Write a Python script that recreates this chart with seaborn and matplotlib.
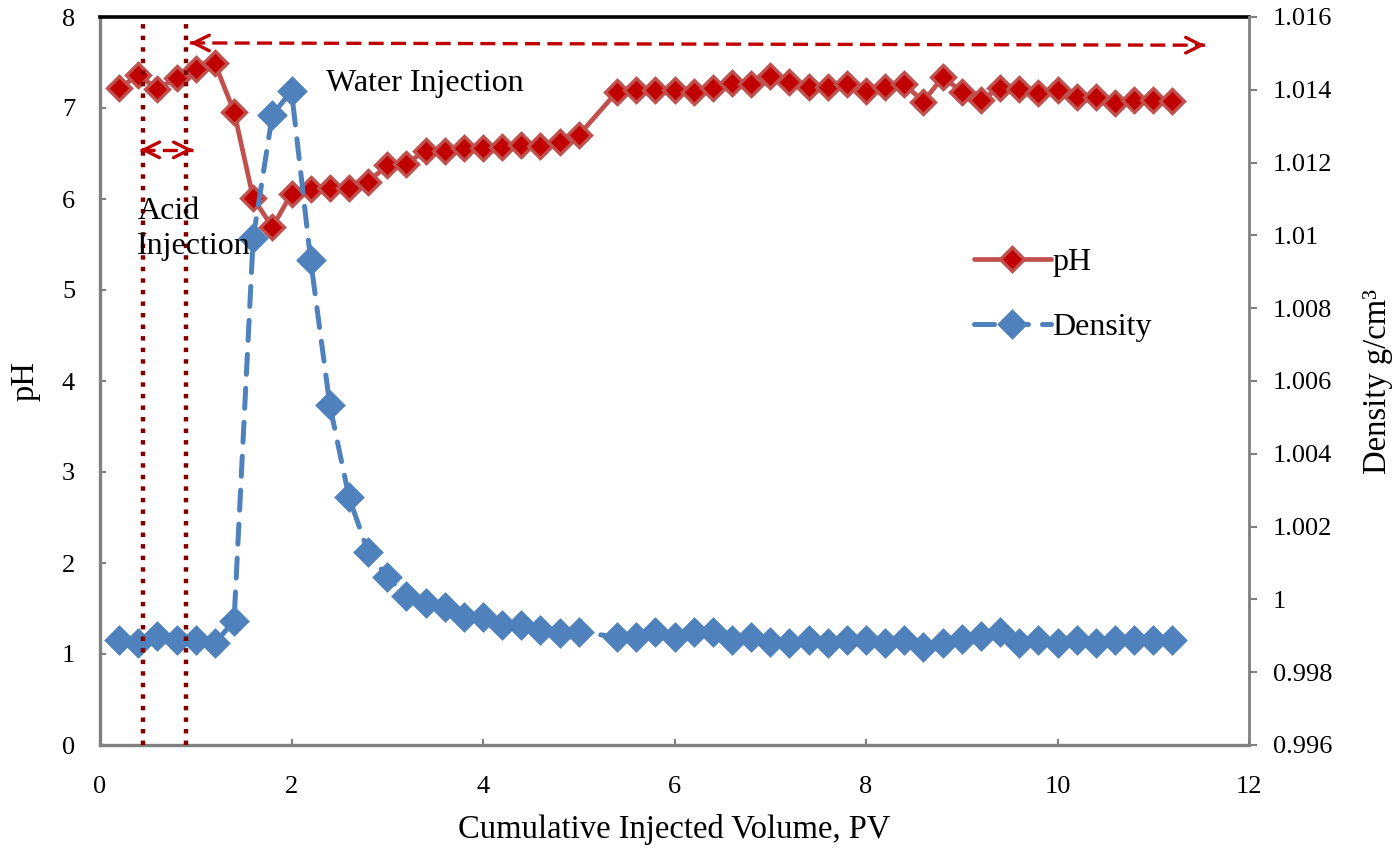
import numpy as np
import pandas as pd
import matplotlib
matplotlib.use("Agg")
import matplotlib.pyplot as plt
import seaborn as sns

# ---------------- data ----------------
pv = [0.2, 0.4, 0.6, 0.8, 1.0, 1.2, 1.4, 1.6, 1.8, 2.0, 2.2, 2.4, 2.6, 2.8, 3.0,
      3.2, 3.4, 3.6, 3.8, 4.0, 4.2, 4.4, 4.6, 4.8, 5.0,
      5.4, 5.6, 5.8, 6.0, 6.2, 6.4, 6.6, 6.8, 7.0, 7.2, 7.4, 7.6, 7.8, 8.0,
      8.2, 8.4, 8.6, 8.8, 9.0, 9.2, 9.4, 9.6, 9.8, 10.0, 10.2, 10.4, 10.6,
      10.8, 11.0, 11.2]

ph = [7.22, 7.36, 7.21, 7.33, 7.43, 7.49, 6.96, 6.01, 5.69, 6.06, 6.11, 6.12,
      6.12, 6.19, 6.37, 6.39, 6.53, 6.53, 6.56, 6.56, 6.57, 6.59, 6.58, 6.63, 6.70,
      7.18, 7.20, 7.20, 7.20, 7.18, 7.22, 7.27, 7.26, 7.35, 7.29, 7.23, 7.23,
      7.26, 7.19, 7.23, 7.26, 7.07, 7.34, 7.18, 7.09, 7.22, 7.21, 7.16, 7.20,
      7.12, 7.12, 7.05, 7.09, 7.09, 7.08]

density = [0.99888, 0.99880, 0.99899, 0.99888, 0.99888, 0.99880, 0.99941,
           1.00993, 1.01331, 1.01397, 1.00932, 1.00534, 1.00281, 1.00130,
           1.00062, 1.00009, 0.99990, 0.99979, 0.99952, 0.99952, 0.99930,
           0.99930, 0.99916, 0.99908, 0.99910,
           0.99897, 0.99897, 0.99910, 0.99897, 0.99910, 0.99910, 0.99888,
           0.99897, 0.99883, 0.99880, 0.99888, 0.99880, 0.99888, 0.99888,
           0.99880, 0.99888, 0.99869, 0.99880, 0.99891, 0.99899, 0.99910,
           0.99880, 0.99888, 0.99880, 0.99888, 0.99880, 0.99888, 0.99888,
           0.99888, 0.99888]

x_ticks = [0, 2, 4, 6, 8, 10, 12]
ph_ticks = [0, 1, 2, 3, 4, 5, 6, 7, 8]
dens_ticks = [0.996, 0.998, 1.000, 1.002, 1.004, 1.006, 1.008, 1.010, 1.012, 1.014, 1.016]
dens_tick_labels = ["0.996", "0.998", "1", "1.002", "1.004", "1.006", "1.008",
                    "1.01", "1.012", "1.014", "1.016"]

acid_lines = [0.45, 0.90]

df = pd.DataFrame({"PV": pv, "pH": ph, "Density": density})

# ---------------- style ----------------
sns.set_style("white")
plt.rcParams["font.family"] = ["Liberation Serif", "DejaVu Serif"]
plt.rcParams["text.color"] = "black"
plt.rcParams["axes.labelcolor"] = "black"
plt.rcParams["xtick.labelcolor"] = "black"
plt.rcParams["ytick.labelcolor"] = "black"

RED_LINE = "#C0504D"
RED_FILL = "#C00000"
BLUE = "#4F81BD"
GRAY = "#808080"

fig = plt.figure(figsize=(13.97, 8.52), dpi=100)
ax = fig.add_axes([100 / 1397, 1 - 745 / 852, 1149 / 1397, 728 / 852])
ax2 = ax.twinx()

sns.lineplot(data=df, x="PV", y="pH", ax=ax, sort=False, estimator=None,
             color=RED_LINE, lw=3.4, marker="D", markersize=12.5,
             markerfacecolor=RED_FILL, markeredgecolor=RED_LINE,
             markeredgewidth=2.4, label="pH", legend=False)
sns.lineplot(data=df, x="PV", y="Density", ax=ax2, sort=False, estimator=None,
             color=BLUE, lw=3.6, marker="D", markersize=13,
             markerfacecolor=BLUE, markeredgecolor=BLUE, markeredgewidth=2.4,
             linestyle=(0, (4, 2.8)), dash_capstyle="round",
             label="Density", legend=False)

ax.set_xlim(0, 12)
ax.set_ylim(0, 8)
ax2.set_ylim(0.996, 1.016)
ax.set_xticks(x_ticks)
ax.set_xticklabels([str(v) for v in x_ticks])
ax.set_yticks(ph_ticks)
ax.set_yticklabels([str(v) for v in ph_ticks])
ax2.set_yticks(dens_ticks)
ax2.set_yticklabels(dens_tick_labels)

for a in (ax, ax2):
    for s in a.spines.values():
        s.set_visible(False)
ax.spines["left"].set_visible(True)
ax.spines["bottom"].set_visible(True)
ax.spines["top"].set_visible(True)
ax2.spines["right"].set_visible(True)
ax.spines["left"].set_color(GRAY)
ax.spines["left"].set_linewidth(2.4)
ax.spines["bottom"].set_color(GRAY)
ax.spines["bottom"].set_linewidth(2.4)
ax.spines["top"].set_color("black")
ax.spines["top"].set_linewidth(2.6)
ax2.spines["right"].set_color(GRAY)
ax2.spines["right"].set_linewidth(2.0)

ax.tick_params(axis="x", direction="in", length=4, width=1.5, color=GRAY,
               labelsize=19, pad=22, bottom=True, labelcolor="black")
ax.tick_params(axis="y", direction="in", length=4, width=1.5, color=GRAY,
               labelsize=19, pad=18, left=True, labelcolor="black")
ax2.tick_params(axis="y", direction="out", length=6, width=1.5, color=GRAY,
                labelsize=19, pad=11, right=True, labelcolor="black")

ax.set_xlabel("Cumulative Injected Volume, PV", fontsize=23.5, labelpad=12)
ax.set_ylabel("pH", fontsize=23.5, labelpad=15)
ax2.set_ylabel("Density g/cm³", fontsize=23.5, labelpad=22)

# vertical dotted lines (acid injection window)
for xv in acid_lines:
    ax2.axvline(xv, color="#800000", lw=3.2, linestyle=(0, (1, 1.6)), zorder=5)

ph_to_d = lambda p: 0.996 + p * 0.0025

def dashed_arrow(x0, y0, x1, y1, lw, dash):
    ax2.plot([x0, x1], [ph_to_d(y0), ph_to_d(y1)], color=RED_FILL, lw=lw,
             linestyle=dash, zorder=6)
    for (xa, ya, xb, yb) in ((x0, y0, x1, y1), (x1, y1, x0, y0)):
        dx, dy = (xb - xa), (yb - ya)
        n = np.hypot(dx, dy)
        ax2.annotate("", xy=(xa, ph_to_d(ya)),
                     xytext=(xa + 0.05 * dx / n, ph_to_d(ya + 0.05 * dy / n)),
                     arrowprops=dict(arrowstyle="->", color=RED_FILL, lw=lw,
                                     mutation_scale=28, shrinkA=0, shrinkB=0),
                     zorder=6)

dashed_arrow(0.94, 7.715, 11.54, 7.69, 2.4, (0, (4.5, 2.2)))
dashed_arrow(0.42, 6.54, 0.97, 6.54, 2.4, (0, (4.5, 2.2)))

ax2.text(3.39, ph_to_d(7.27), "Water Injection", fontsize=23,
         ha="center", va="center", zorder=7)
ax2.text(0.39, ph_to_d(5.67), "Acid\nInjection", fontsize=23,
         ha="left", va="center", linespacing=1.25, zorder=7)

h1, l1 = ax.get_legend_handles_labels()
h2, l2 = ax2.get_legend_handles_labels()
ax2.legend(h1 + h2, l1 + l2, loc="upper left",
           bbox_to_anchor=(958 / 1397, 1 - 232 / 852),
           bbox_transform=fig.transFigure, frameon=False, fontsize=23,
           handlelength=2.4, handletextpad=0.05, labelspacing=1.1, borderpad=0)

fig.savefig("out.png", dpi=100)
